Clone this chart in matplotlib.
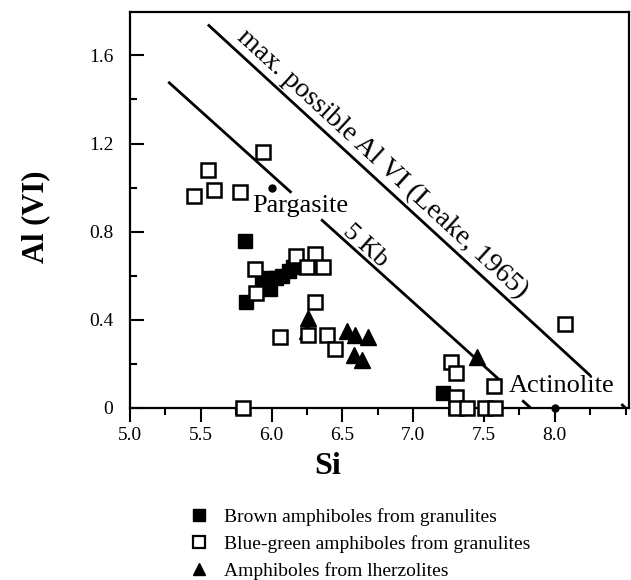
import numpy as np
import matplotlib
matplotlib.use("Agg")
import matplotlib.pyplot as plt
from matplotlib.lines import Line2D
from matplotlib.ticker import MultipleLocator

plt.rcParams['font.family'] = ['Liberation Serif', 'DejaVu Serif']

# ---- data ----
brown_si = [5.81, 5.82, 5.93, 5.97, 5.99, 6.03, 6.07, 6.12, 6.15, 7.21]
brown_al = [0.76, 0.48, 0.57, 0.59, 0.54, 0.59, 0.60, 0.62, 0.64, 0.07]

bluegreen_si = [5.45, 5.55, 5.59, 5.78, 5.94, 5.80, 5.88, 5.89, 6.17, 6.31, 6.25, 6.36,
                6.31, 6.06, 6.26, 6.39, 6.45, 7.27, 7.30, 7.30, 7.30, 7.38, 7.51, 7.58,
                7.57, 8.07]
bluegreen_al = [0.96, 1.08, 0.99, 0.98, 1.16, 0.00, 0.63, 0.52, 0.69, 0.70, 0.64, 0.64,
                0.48, 0.32, 0.33, 0.33, 0.27, 0.21, 0.16, 0.05, 0.00, 0.00, 0.00, 0.00,
                0.10, 0.38]

lherz_si = [6.26, 6.25, 6.53, 6.59, 6.68, 6.58, 6.64, 7.45]
lherz_al = [0.41, 0.35, 0.35, 0.33, 0.32, 0.24, 0.22, 0.23]

# reference compositions
ref_names = ["Pargasite", "Actinolite"]
ref_si = [6.0, 8.0]
ref_al = [1.0, 0.0]

# reference lines (end points) and the x-ranges where they are drawn
kb5_x = [5.27, 7.83]
kb5_y = [1.48, 0.0]
kb5_pieces = [(5.27, 6.14), (6.35, 7.62), (7.77, 7.83)]
leake_x = [5.55, 8.50]
leake_y = [1.74, 0.0]
leake_pieces = [(5.55, 8.25), (8.47, 8.50)]

legend_labels = ["Brown amphiboles from granulites",
                 "Blue-green amphiboles from granulites",
                 "Amphiboles from lherzolites"]

xticks = [5.0, 5.5, 6.0, 6.5, 7.0, 7.5, 8.0]
xticklabels = ["5.0", "5.5", "6.0", "6.5", "7.0", "7.5", "8.0"]
yticks = [0, 0.4, 0.8, 1.2, 1.6]
yticklabels = ["0", "0.4", "0.8", "1.2", "1.6"]

# ---- figure ----
W, H = 631, 580
fig = plt.figure(figsize=(W / 100, H / 100), dpi=100)
ax = fig.add_axes([130 / W, 1 - 408 / H, 499 / W, 396 / H])
ax.set_xlim(5.0, 8.524)
ax.set_ylim(0, 1.797)

for s in ax.spines.values():
    s.set_linewidth(1.6)

def seg_y(xs, ys, x):
    return ys[0] + (ys[1] - ys[0]) * (x - xs[0]) / (xs[1] - xs[0])

for a, b in kb5_pieces:
    ax.plot([a, b], [seg_y(kb5_x, kb5_y, a), seg_y(kb5_x, kb5_y, b)],
            color='black', lw=2.0, solid_capstyle='butt', clip_on=False, zorder=2)
for a, b in leake_pieces:
    ax.plot([a, b], [seg_y(leake_x, leake_y, a), seg_y(leake_x, leake_y, b)],
            color='black', lw=2.0, solid_capstyle='butt', clip_on=False, zorder=2)

ax.plot(brown_si, brown_al, linestyle='none', marker='s', markersize=10,
        markerfacecolor='black', markeredgecolor='black', clip_on=False, zorder=3)
ax.plot(lherz_si, lherz_al, linestyle='none', marker='^', markersize=11,
        markerfacecolor='black', markeredgecolor='black', clip_on=False, zorder=3)
ax.plot(bluegreen_si, bluegreen_al, linestyle='none', marker='s', markersize=10,
        markerfacecolor='white', markeredgecolor='black', markeredgewidth=1.8,
        clip_on=False, zorder=4)
ax.plot(ref_si, ref_al, linestyle='none', marker='o', markersize=5,
        color='black', clip_on=False, zorder=5)

ax.text(6.20, 0.915, ref_names[0], fontsize=19, ha='center', va='center', zorder=6)
ax.text(8.05, 0.10, ref_names[1], fontsize=19, ha='center', va='center', zorder=6)

def line_angle(xs, ys):
    p1 = ax.transData.transform((xs[0], ys[0]))
    p2 = ax.transData.transform((xs[1], ys[1]))
    return np.degrees(np.arctan2(p2[1] - p1[1], p2[0] - p1[0]))

ax.text(6.783, 1.106, "max. possible Al VI (Leake, 1965)", fontsize=20,
        rotation=line_angle(leake_x, leake_y), rotation_mode='anchor',
        ha='center', va='center')
ax.text(6.66, 0.734, "5 Kb", fontsize=19,
        rotation=line_angle(kb5_x, kb5_y), rotation_mode='anchor',
        ha='center', va='center')

ax.set_xticks(xticks)
ax.set_xticklabels(xticklabels)
ax.set_yticks(yticks)
ax.set_yticklabels(yticklabels)
ax.xaxis.set_minor_locator(MultipleLocator(0.25))
ax.yaxis.set_minor_locator(MultipleLocator(0.2))
ax.tick_params(axis='x', which='major', direction='out', length=10, width=1.5,
               labelsize=14, pad=4)
ax.tick_params(axis='x', which='minor', direction='out', length=5, width=1.5)
ax.tick_params(axis='y', which='major', direction='in', length=10, width=1.5,
               labelsize=14, pad=12)
ax.tick_params(axis='y', which='minor', direction='in', length=5, width=1.5)

fig.text(328 / W, 1 - 466 / H, "Si", fontsize=23, fontweight='bold',
         ha='center', va='center')
fig.text(36 / W, 1 - 217 / H, "Al (VI)", fontsize=22, fontweight='bold',
         ha='center', va='center', rotation=90)

handles = [
    Line2D([], [], linestyle='none', marker='s', markersize=8,
           markerfacecolor='black', markeredgecolor='black'),
    Line2D([], [], linestyle='none', marker='s', markersize=8,
           markerfacecolor='white', markeredgecolor='black', markeredgewidth=1.6),
    Line2D([], [], linestyle='none', marker='^', markersize=9,
           markerfacecolor='black', markeredgecolor='black'),
]
fig.legend(handles, legend_labels, loc='upper left',
           bbox_to_anchor=(189 / W, 1 - 508 / H), frameon=False, fontsize=14,
           handlelength=1.0, handletextpad=0.8, labelspacing=0.48,
           borderpad=0, borderaxespad=0)

fig.savefig("out.png", dpi=100)
